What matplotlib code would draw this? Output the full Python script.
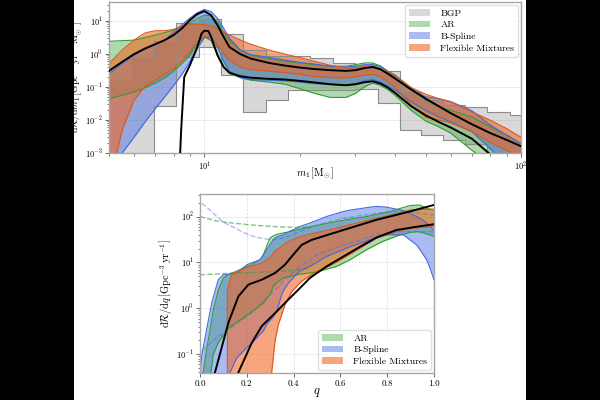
import numpy as np
import matplotlib
matplotlib.use("Agg")
import matplotlib.pyplot as plt
from matplotlib.patches import Rectangle

plt.rcParams.update({
    "font.family": "serif",
    "font.serif": ["cmr10", "DejaVu Serif"],
    "mathtext.fontset": "cm",
    "axes.formatter.use_mathtext": True,
    "axes.unicode_minus": False,
})

# ---------------- top panel data (primary mass) ----------------
m_grid = [5, 5.5, 6, 6.5, 7, 7.5, 8, 8.5, 9, 9.5, 10, 10.5, 11, 11.5, 12, 13, 14, 16, 18, 20,
          22, 25, 28, 30, 32, 34, 36, 38, 40, 45, 50, 55, 60, 70, 80, 90, 100]

ar_m_upper = [2.4, 2.5, 2.6, 3.1, 3.7, 4.4, 5.2, 6.6, 8.7, 11.8, 14.8, 14.0, 9.3, 4.6, 2.6, 1.3, 0.91,
              0.72, 0.6, 0.53, 0.47, 0.42, 0.42, 0.47, 0.53, 0.53, 0.43, 0.3, 0.23, 0.095, 0.04,
              0.025, 0.0195, 0.0123, 0.0062, 0.0035, 0.0019]
ar_m_lower = [0.044, 0.056, 0.07, 0.095, 0.13, 0.19, 0.3, 0.51, 0.91, 2.06, 3.3, 2.5, 1.0, 0.4,
              0.25, 0.19, 0.16, 0.14, 0.12, 0.089, 0.066, 0.048, 0.048, 0.063, 0.1, 0.13, 0.11,
              0.083, 0.056, 0.0195, 0.0093, 0.0062, 0.004, 0.0012, 0.0005, 0.0003, 0.0002]

bs_m_upper = [0.25, 0.5, 0.9, 1.4, 1.9, 2.6, 4.5, 7.5, 12, 17.5, 22, 19, 12, 6, 3.0, 1.3, 0.95,
              0.78, 0.65, 0.55, 0.5, 0.42, 0.4, 0.42, 0.47, 0.47, 0.42, 0.28, 0.22, 0.085, 0.05,
              0.044, 0.036, 0.019, 0.007, 0.0035, 0.0019]
bs_m_lower = [0.0002, 0.001, 0.003, 0.0087, 0.022, 0.05, 0.11, 0.24, 0.57, 1.45, 3.1, 3.4, 1.63,
              0.6, 0.3, 0.19, 0.167, 0.16, 0.152, 0.14, 0.126, 0.118, 0.115, 0.126, 0.152, 0.167,
              0.14, 0.105, 0.079, 0.035, 0.0195, 0.0123, 0.0087, 0.0044, 0.00135, 0.0004, 0.0002]

fm_m_upper = [0.51, 1.3, 2.6, 4.3, 5.0, 5.0, 5.5, 6.9, 7.9, 7.9, 7.7, 6.9, 5.9, 4.6, 3.7, 2.6,
              1.96, 1.3, 0.98, 0.77, 0.61, 0.45, 0.38, 0.375, 0.42, 0.43, 0.36, 0.29, 0.21, 0.095,
              0.06, 0.044, 0.035, 0.0175, 0.0098, 0.0055, 0.003]
fm_m_lower = [0.0001, 0.0049, 0.04, 0.105, 0.16, 0.24, 0.36, 0.61, 1.15, 2.3, 3.1, 2.9, 1.83,
              1.02, 0.64, 0.4, 0.335, 0.3, 0.27, 0.24, 0.21, 0.19, 0.187, 0.2, 0.226, 0.24, 0.2,
              0.14, 0.095, 0.028, 0.012, 0.01, 0.0081, 0.0044, 0.0021, 0.0012, 0.00076]

bgp_edges = [5.0, 5.86, 6.94, 8.13, 9.64, 11.29, 13.23, 15.67, 18.36, 21.5, 25.5, 29.9, 35.4,
             41.5, 48.5, 56.9, 66.6, 78.0, 92.3, 100]
bgp_upper = [0.17, 0.81, 2.5, 8.7, 11, 4.1, 1.3, 0.85, 0.85, 0.77, 0.53, 0.4, 0.3, 0.07, 0.039,
             0.028, 0.024, 0.018, 0.014]
bgp_lower = [1e-4, 1e-4, 0.026, 0.81, 1.6, 0.226, 0.017, 0.041, 0.083, 0.083, 0.083, 0.089,
             0.033, 0.0049, 0.0036, 0.0025, 0.0019, 0.0005, 0.0001]

pl_m_upper = [0.305, 0.57, 0.98, 1.45, 1.96, 2.6, 3.7, 5.9, 10.5, 15.9, 19.6, 14.8, 7.4, 3.3, 1.6,
              0.98, 0.72, 0.53, 0.44, 0.385, 0.35, 0.32, 0.305, 0.32, 0.37, 0.40, 0.34, 0.25,
              0.18, 0.083, 0.044, 0.026, 0.016, 0.0074, 0.004, 0.0025, 0.0016]
pl_lower_m = [8.38, 8.45, 8.64, 9, 9.5, 9.8, 10, 10.3, 10.5, 11, 11.5, 12, 13, 14, 16, 18, 20, 22,
              25, 28, 30, 32, 34, 36, 38, 40, 45, 50, 55, 60, 70, 80, 90, 100]
pl_m_lower = [0.0008, 0.005, 0.2, 0.45, 1.6, 4.1, 5.0, 4.9, 3.3, 0.91, 0.40, 0.27, 0.21, 0.19,
              0.175, 0.167, 0.152, 0.138, 0.12, 0.112, 0.12, 0.138, 0.148, 0.126, 0.095, 0.066,
              0.026, 0.0138, 0.0087, 0.0059, 0.0027, 0.0009, 0.0005, 0.0003]

# ---------------- bottom panel data (mass ratio) ----------------
ar_q = [0.014, 0.028, 0.043, 0.057, 0.078, 0.1, 0.111, 0.121, 0.185, 0.214, 0.256, 0.271, 0.299,
        0.313, 0.328, 0.356, 0.385, 0.413, 0.456, 0.499, 0.584, 0.641, 0.712, 0.783, 0.812, 0.855,
        0.897, 0.926, 0.94, 0.969, 1.0]
ar_q_upper = [0.04, 0.126, 0.34, 0.93, 2.5, 4.6, 5.0, 5.4, 7.5, 8.7, 11.4, 15, 34, 38, 41, 44, 47,
              51, 58, 64, 78, 88, 100, 120, 129, 150, 173, 178, 178, 151, 139]
ar_q_lower = [0.001, 0.001, 0.03, 0.1, 0.18, 0.26, 0.3, 0.37, 0.62, 0.79, 1.15, 1.3, 2.0, 3.0, 3.6,
              4.6, 5.0, 5.4, 5.8, 6.2, 8.2, 11.4, 19, 29, 33, 40, 45, 47, 46, 42, 37]

bs_q = [0.0, 0.007, 0.028, 0.05, 0.078, 0.1, 0.128, 0.157, 0.2, 0.214, 0.256, 0.271, 0.285, 0.313,
        0.328, 0.349, 0.356, 0.377, 0.413, 0.427, 0.47, 0.541, 0.613, 0.641, 0.726, 0.755, 0.798,
        0.869, 0.926, 0.94, 0.969, 0.983, 1.0]
bs_q_upper = [0.04, 0.09, 0.34, 1.3, 4.2, 5.4, 5.6, 5.9, 8.9, 9.5, 11.4, 14, 19, 31, 36, 39, 40, 46,
              56, 61, 72, 100, 129, 138, 160, 166, 160, 135, 100, 92, 72, 61, 51]
bs_q_lower = [0.001, 0.001, 0.001, 0.001, 0.001, 0.001, 0.04, 0.083, 0.14, 0.16, 0.27, 0.32, 0.45,
              0.65, 0.86, 2.0, 2.4, 3.5, 5.6, 6.5, 8.2, 13.5, 19, 22, 31, 35, 40, 40, 24, 19, 11.4,
              7.5, 4.2]

fm_q = [0.117, 0.135, 0.192, 0.264, 0.3, 0.321, 0.335, 0.363, 0.392, 0.434, 0.491, 0.556, 0.613,
        0.684, 0.755, 0.84, 0.897, 0.95, 1.0]
fm_q_upper = [2.5, 5.4, 7.5, 9.7, 13, 17.4, 20, 26, 31, 37, 44, 52, 61, 75, 92, 115, 139, 143, 145]
fm_q_lower = [0.001, 0.001, 0.001, 0.001, 0.02, 0.2, 0.44, 1.2, 2.3, 3.9, 6.0, 8.5, 12.4, 20.5,
              34, 47, 55, 58, 61]

pl_q_up = [0.043, 0.064, 0.121, 0.164, 0.207, 0.264, 0.321, 0.363, 0.392, 0.434, 0.477, 0.613,
           0.755, 0.897, 1.0]
pl_q_upper = [0.016, 0.04, 0.48, 1.82, 3.3, 4.2, 5.9, 8.9, 13.5, 24, 31, 51, 85, 129, 179]
pl_q_lo = [0.15, 0.164, 0.221, 0.264, 0.321, 0.377, 0.434, 0.47, 0.541, 0.613, 0.684, 0.755, 0.84,
           0.926, 1.0]
pl_q_lower = [0.02, 0.04, 0.176, 0.41, 0.79, 1.54, 3.0, 4.6, 8.2, 13.5, 22, 35, 51, 60, 68]

ar_prior_q = [0.0, 0.071, 0.142, 0.214, 0.285, 0.356, 0.427, 0.47]
ar_prior_hi = [100, 80, 72, 66, 62, 59, 58, 58]
ar_prior_lo = [5.4, 5.6, 5.9, 6.0, 6.2, 6.5, 7.0, 7.5]

bs_prior_q = [0.007, 0.043, 0.071, 0.107, 0.142, 0.185, 0.228, 0.271, 0.313, 0.356, 0.427, 0.5,
              0.613, 0.755, 0.869, 1.0]
bs_prior_hi = [195, 140, 100, 72, 59, 45, 37, 33, 31, 34, 47, 66, 92, 118, 129, 109]
bs_prior_lo = [0.12, 0.17, 0.23, 0.31, 0.41, 0.58, 0.85, 1.45, 2.3, 3.9, 8.2, 14.6, 24, 40, 47, 47]

C_GRAY = "0.5"
C_AR = "#2ca02c"
C_BS = "royalblue"
C_FM = "#f26522"
E_FM = "#e0561a"


def band(ax, x, lo, hi, color, alpha, label, edge=None, lw=0.8):
    x = np.asarray(x, float)
    lo = np.asarray(lo, float)
    hi = np.asarray(hi, float)
    h = ax.fill_between(x, lo, hi, color=color, alpha=alpha, lw=0, label=label)
    ax.plot(np.r_[x[::-1], x], np.r_[lo[::-1], hi], color=edge or color, lw=lw)
    return h


def style(ax):
    for s in ax.spines.values():
        s.set_color("0.65")
        s.set_linewidth(1.0)
    ax.tick_params(which="both", labelsize=6, color="0.3", direction="out", pad=1.5)
    ax.tick_params(which="major", length=3, width=0.6)
    ax.tick_params(which="minor", length=1.8, width=0.5)
    ax.grid(True, which="major", ls="--", lw=0.5, color="0.85")
    ax.set_axisbelow(True)


fig = plt.figure(figsize=(6, 4), dpi=100, facecolor="black")
fig.add_artist(Rectangle((74 / 600, 0), 452 / 600, 1, transform=fig.transFigure,
                         facecolor="white", edgecolor="none", zorder=-10))

# ---------------- top ----------------
ax1 = fig.add_axes([109 / 600, 1 - 153 / 400, 412 / 600, 151 / 400])
ax1.set_xscale("log")
ax1.set_yscale("log")
style(ax1)

edges = np.asarray(bgp_edges)
lo_s = np.r_[bgp_lower, bgp_lower[-1]]
hi_s = np.r_[bgp_upper, bgp_upper[-1]]
h_bgp = ax1.fill_between(edges, lo_s, hi_s, step="post", color=C_GRAY, alpha=0.3, lw=0,
                         label="BGP")
ax1.step(edges, hi_s, where="post", color="0.55", lw=0.8)
ax1.step(edges, lo_s, where="post", color="0.55", lw=0.8)

h_ar = band(ax1, m_grid, ar_m_lower, ar_m_upper, C_AR, 0.38, "AR")
h_bs = band(ax1, m_grid, bs_m_lower, bs_m_upper, C_BS, 0.45, "B-Spline")
h_fm = band(ax1, m_grid, fm_m_lower, fm_m_upper, C_FM, 0.58, "Flexible Mixtures", edge=E_FM)
ax1.plot(m_grid, pl_m_upper, color="k", lw=1.4, zorder=5)
ax1.plot(pl_lower_m, pl_m_lower, color="k", lw=1.4, zorder=5)

ax1.set_xlim(5, 100)
ax1.set_ylim(1e-3, 37)
ax1.set_xticks([10, 100])
ax1.set_xticklabels([r"$10^1$", r"$10^2$"])
ax1.set_yticks([1e-3, 1e-2, 1e-1, 1, 10])
ax1.set_xlabel(r"$m_1\,[\mathrm{M}_{\odot}]$", fontsize=7.5)
ax1.xaxis.set_label_coords(0.5, -0.083)
ax1.set_ylabel(r"$\mathrm{d}\mathcal{R}/\mathrm{d}m_1\,\left[\mathrm{Gpc}^{-3}\,\mathrm{yr}^{-1}\,\mathrm{M}_{\odot}^{-1}\right]$",
               fontsize=7)
ax1.yaxis.set_label_coords(-0.06, 0.5)
leg1 = ax1.legend(handles=[h_bgp, h_ar, h_bs, h_fm], loc="upper right", fontsize=7,
                  frameon=True, handlelength=2.2, borderaxespad=0.3, labelspacing=0.3,
                  handletextpad=1.0)
leg1.get_frame().set_edgecolor("0.85")

# ---------------- bottom ----------------
ax2 = fig.add_axes([200 / 600, 1 - 373 / 400, 234 / 600, 179 / 400])
ax2.set_yscale("log")
style(ax2)

ax2.plot(ar_prior_q, ar_prior_hi, color=C_AR, alpha=0.6, lw=1.0, ls="--")
ax2.plot(ar_prior_q, ar_prior_lo, color=C_AR, alpha=0.6, lw=1.0, ls="--")
ax2.plot(bs_prior_q, bs_prior_hi, color=C_BS, alpha=0.45, lw=1.0, ls="--")
ax2.plot(bs_prior_q, bs_prior_lo, color=C_BS, alpha=0.45, lw=1.0, ls="--")

g_ar = band(ax2, ar_q, ar_q_lower, ar_q_upper, C_AR, 0.38, "AR")
g_bs = band(ax2, bs_q, bs_q_lower, bs_q_upper, C_BS, 0.45, "B-Spline")
g_fm = band(ax2, fm_q, fm_q_lower, fm_q_upper, C_FM, 0.58, "Flexible Mixtures", edge=E_FM)
ax2.plot(pl_q_up, pl_q_upper, color="k", lw=1.4, zorder=5)
ax2.plot(pl_q_lo, pl_q_lower, color="k", lw=1.4, zorder=5)

ax2.set_xlim(0, 1)
ax2.set_ylim(0.039, 310)
ax2.set_xticks([0, 0.2, 0.4, 0.6, 0.8, 1.0])
ax2.set_xticklabels(["0.0", "0.2", "0.4", "0.6", "0.8", "1.0"])
ax2.tick_params(axis="x", labelsize=6.5)
ax2.set_yticks([0.1, 1, 10, 100])
ax2.set_xlabel(r"$q$", fontsize=9)
ax2.xaxis.set_label_coords(0.5, -0.07)
ax2.set_ylabel(r"$\mathrm{d}\mathcal{R}/\mathrm{d}q\,\left[\mathrm{Gpc}^{-3}\,\mathrm{yr}^{-1}\right]$",
               fontsize=7.5)
ax2.yaxis.set_label_coords(-0.11, 0.5)
leg2 = ax2.legend(handles=[g_ar, g_bs, g_fm], loc="lower right", fontsize=7, frameon=True,
                  handlelength=2.2, borderaxespad=0.3, labelspacing=0.3, handletextpad=1.0)
leg2.get_frame().set_edgecolor("0.85")

fig.savefig("out.png", dpi=100, facecolor=fig.get_facecolor())
